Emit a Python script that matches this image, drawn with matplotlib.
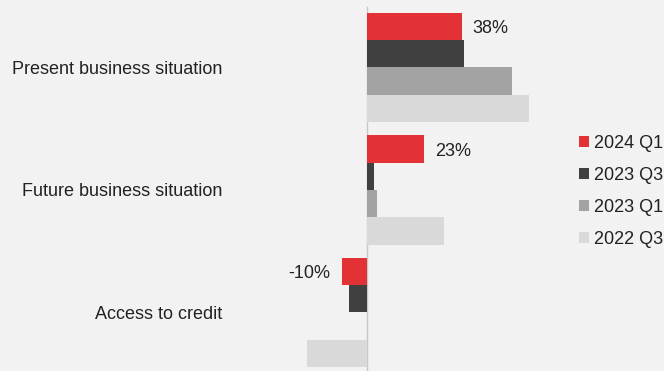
import matplotlib.pyplot as plt
import numpy as np

# data (percent)
categories = ["Present business situation", "Future business situation", "Access to credit"]
series = ["2024 Q1", "2023 Q3", "2023 Q1", "2022 Q3"]
q1_2024 = [38, 23, -10]
q3_2023 = [39, 3, -7]
q1_2023 = [58, 4, 0]
q3_2022 = [65, 31, -24]
labelled = [38, 23, -10]  # only the latest quarter carries a value label

values = [q1_2024, q3_2023, q1_2023, q3_2022]
colors = ["#e23236", "#404040", "#a3a3a3", "#d9d9d9"]
bg = "#f2f2f2"

plt.rcParams['font.family'] = ['Liberation Sans', 'DejaVu Sans']

fig = plt.figure(figsize=(6.64, 3.71), dpi=100, facecolor=bg)
ax = fig.add_axes([232 / 664, 0, 1 - 232 / 664, 1])
ax.set_facecolor(bg)

y = np.arange(len(categories))
h = 0.223
for i, (vals, col, name) in enumerate(zip(values, colors, series)):
    ax.barh(y + (i - 1.5) * h, vals, height=h, color=col, label=name)

# value labels for the red bars
for yi, v in zip(y, labelled):
    off = 7.5 if v >= 0 else -8.5
    ax.annotate(f"{v}%", (v, yi - 1.5 * h), xytext=(off, -1.5), textcoords="offset points",
                ha="left" if v >= 0 else "right", va="center", fontsize=13, color="#222222")

ax.axvline(0, ymin=0, ymax=0.981, color="#c8c8c8", lw=1, zorder=0)

ax.set_xlim(-54, 118.9)
ax.set_ylim(2.478, -0.551)
ax.set_yticks(y)
ax.set_yticklabels(categories, fontsize=13, color="#222222")
ax.tick_params(axis="y", length=0, pad=7)
ax.set_xticks([])
for s in ax.spines.values():
    s.set_visible(False)

ax.legend(loc="upper left", bbox_to_anchor=(570 / 664, 1 - 126 / 371), bbox_transform=fig.transFigure,
          frameon=False, fontsize=13, handlelength=0.55, handleheight=0.55, handletextpad=0.3,
          labelspacing=0.83, borderpad=0, labelcolor="#222222")

fig.savefig("out.png", dpi=100, facecolor=bg)
